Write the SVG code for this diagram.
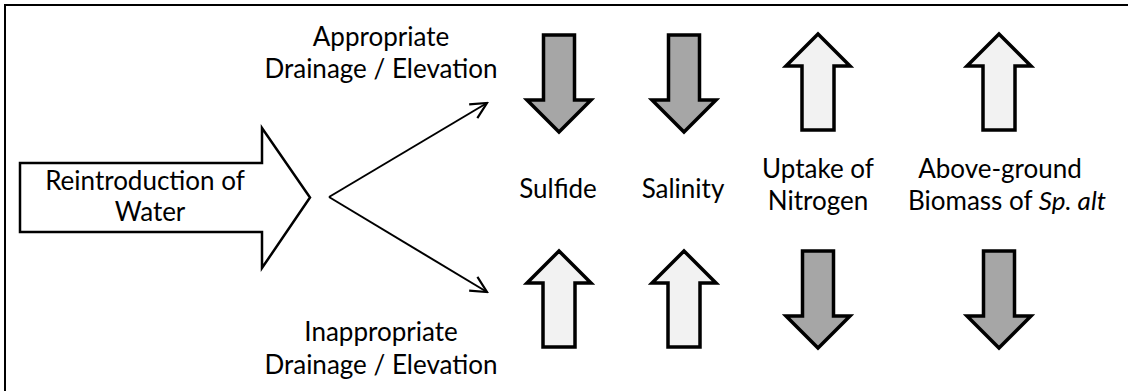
<svg xmlns="http://www.w3.org/2000/svg" xmlns:xlink="http://www.w3.org/1999/xlink" width="1128" height="391" viewBox="0 0 1128 391">
  <style>
    .t { font-family: Lato, "Liberation Sans", sans-serif; font-size: 26px; fill: #000; text-anchor: middle; }
    .dn { fill: #a6a6a6; stroke: #000; stroke-width: 3.5; stroke-linejoin: miter; }
    .up { fill: #f2f2f2; stroke: #000; stroke-width: 3.5; stroke-linejoin: miter; }
    .conn { fill: none; stroke: #000; stroke-width: 2; }
  </style>
  <defs>
    <path id="downArrow" d="M-15.5,0 H15.5 V65 H32 L0,97 L-32,65 H-15.5 Z"/>
    <path id="upArrow" d="M0,0 L32,32 H16 V96 H-16 V32 H-32 Z"/>
    <marker id="openHead" viewBox="0 0 20 20" refX="18" refY="10" markerWidth="20" markerHeight="20" markerUnits="userSpaceOnUse" orient="auto">
      <path d="M2,2 L18,10 L2,18" fill="none" stroke="#000" stroke-width="2.2"/>
    </marker>
  </defs>
  <rect x="0" y="0" width="1128" height="391" fill="#fff"/>
  <rect id="frame" x="5" y="5" width="1140" height="400" fill="none" stroke="#000" stroke-width="2"/>

  <g id="reintroduction">
    <path d="M20,163 H262 V128 L310,197.5 L262,268 V232 H20 Z" fill="#fff" stroke="#000" stroke-width="2.5"/>
    <text class="t" x="145" y="190">Reintroduction of</text>
    <text class="t" x="150" y="221">Water</text>
  </g>

  <g id="connectors">
    <line class="conn" x1="329" y1="197" x2="487" y2="103" marker-end="url(#openHead)"/>
    <line class="conn" x1="329" y1="197" x2="487" y2="292" marker-end="url(#openHead)"/>
  </g>

  <g id="appropriate">
    <text class="t" x="381" y="46">Appropriate</text>
    <text class="t" x="381" y="78">Drainage / Elevation</text>
  </g>
  <g id="inappropriate">
    <text class="t" x="381" y="341">Inappropriate</text>
    <text class="t" x="381" y="374">Drainage / Elevation</text>
  </g>

  <g id="sulfide">
    <use xlink:href="#downArrow" class="dn" x="559" y="35"/>
    <text class="t" x="558" y="198">Sulfide</text>
    <use xlink:href="#upArrow" class="up" x="559" y="251"/>
  </g>
  <g id="salinity">
    <use xlink:href="#downArrow" class="dn" x="684" y="35"/>
    <text class="t" x="683" y="198">Salinity</text>
    <use xlink:href="#upArrow" class="up" x="684" y="251"/>
  </g>
  <g id="nitrogen">
    <use xlink:href="#upArrow" class="up" x="818" y="34"/>
    <text class="t" x="818" y="178">Uptake of</text>
    <text class="t" x="818" y="210">Nitrogen</text>
    <use xlink:href="#downArrow" class="dn" x="818" y="251"/>
  </g>
  <g id="biomass">
    <use xlink:href="#upArrow" class="up" x="999" y="34"/>
    <text class="t" x="1000" y="178">Above-ground</text>
    <text class="t" x="1007" y="210">Biomass of <tspan font-style="italic">Sp. alt</tspan></text>
    <use xlink:href="#downArrow" class="dn" x="999" y="251"/>
  </g>
</svg>
